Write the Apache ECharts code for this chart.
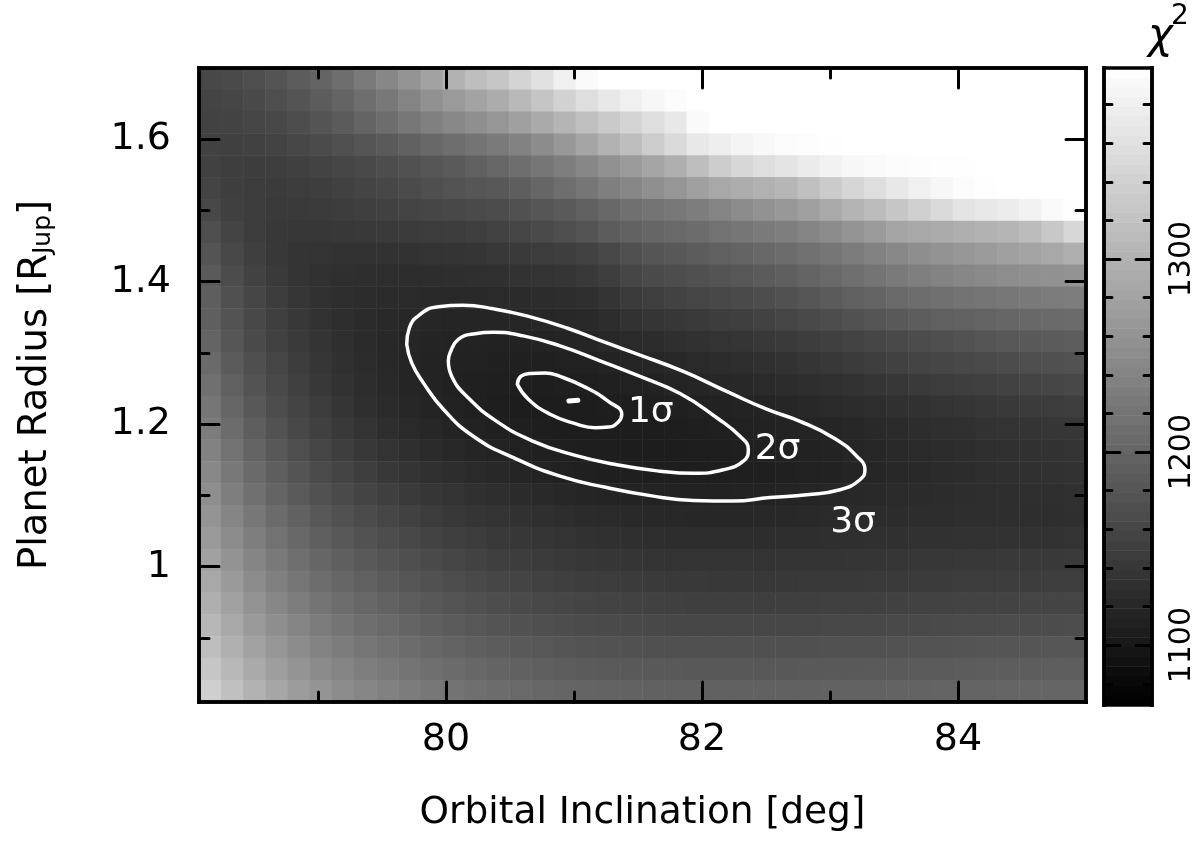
<!DOCTYPE html>
<html><head><meta charset="utf-8">
<style>html,body{margin:0;padding:0;background:#fff}#c{width:1202px;height:846px}</style>
<script src="https://cdn.jsdelivr.net/npm/echarts@6/dist/echarts.min.js"></script>
</head><body><div id="c"></div>
<script>
const inclinationCols=[78.16,78.33,78.51,78.68,78.85,79.03,79.20,79.37,79.55,79.72,79.89,80.07,80.24,80.41,80.59,80.76,80.93,81.11,81.28,81.45,81.63,81.80,81.97,82.15,82.32,82.49,82.67,82.84,83.01,83.19,83.36,83.53,83.71,83.88,84.05,84.23,84.40,84.57,84.75,84.92];
const radiusRows=[1.685,1.654,1.623,1.593,1.562,1.531,1.501,1.470,1.439,1.408,1.378,1.347,1.316,1.286,1.255,1.224,1.194,1.163,1.132,1.102,1.071,1.040,1.010,0.979,0.948,0.917,0.887,0.856,0.825];
const chi2Grid=[
[1162,1165,1170,1178,1188,1198,1211,1227,1244,1261,1279,1299,1315,1325,1343,1360,1380,1393,1399,1399,1399,1399,1399,1399,1399,1399,1399,1399,1399,1399,1399,1399,1399,1399,1399,1399,1399,1399,1399,1399],
[1157,1160,1163,1170,1178,1188,1198,1211,1224,1240,1257,1270,1280,1292,1308,1324,1341,1356,1369,1380,1389,1395,1399,1399,1399,1399,1399,1399,1399,1399,1399,1399,1399,1399,1399,1399,1399,1399,1399,1399],
[1154,1156,1158,1162,1169,1178,1187,1198,1210,1223,1235,1245,1254,1263,1276,1289,1303,1317,1330,1343,1356,1369,1393,1399,1399,1399,1399,1399,1399,1399,1399,1399,1399,1399,1399,1399,1399,1399,1399,1399],
[1153,1152,1153,1156,1161,1166,1173,1179,1185,1195,1204,1211,1219,1227,1237,1250,1266,1283,1299,1315,1333,1351,1369,1377,1385,1390,1395,1396,1398,1399,1399,1399,1399,1399,1399,1399,1399,1399,1399,1399],
[1153,1149,1148,1149,1152,1156,1160,1163,1169,1174,1180,1185,1193,1202,1211,1222,1232,1244,1257,1270,1283,1295,1315,1334,1347,1356,1364,1373,1382,1389,1393,1395,1396,1398,1398,1399,1399,1399,1399,1399],
[1157,1149,1147,1145,1147,1149,1153,1157,1161,1166,1171,1176,1180,1183,1191,1201,1211,1222,1233,1244,1254,1263,1276,1286,1293,1298,1305,1317,1332,1346,1356,1369,1380,1389,1395,1398,1399,1399,1399,1399],
[1162,1152,1147,1144,1144,1145,1148,1151,1153,1157,1160,1162,1165,1167,1174,1180,1185,1193,1204,1214,1219,1224,1231,1240,1250,1258,1266,1276,1289,1302,1312,1325,1338,1351,1364,1369,1374,1382,1393,1398],
[1170,1157,1147,1141,1140,1140,1141,1143,1144,1145,1147,1148,1151,1154,1160,1165,1170,1178,1188,1196,1201,1205,1209,1217,1222,1227,1232,1241,1250,1261,1270,1283,1286,1290,1295,1299,1303,1312,1328,1347],
[1178,1162,1151,1141,1136,1135,1134,1134,1134,1134,1135,1136,1138,1141,1144,1147,1149,1154,1162,1173,1179,1183,1188,1193,1198,1204,1209,1215,1222,1229,1237,1245,1253,1259,1264,1270,1276,1281,1286,1295],
[1185,1167,1154,1144,1136,1132,1130,1129,1129,1127,1127,1129,1130,1131,1134,1135,1138,1143,1149,1160,1165,1169,1173,1178,1182,1187,1192,1198,1205,1213,1219,1227,1233,1239,1244,1248,1251,1254,1257,1259],
[1191,1173,1160,1148,1139,1132,1129,1126,1125,1123,1122,1122,1122,1123,1125,1126,1127,1130,1136,1145,1151,1154,1158,1162,1165,1169,1174,1180,1187,1193,1198,1205,1210,1214,1218,1220,1223,1226,1228,1231],
[1192,1176,1162,1151,1141,1134,1129,1125,1122,1119,1118,1117,1117,1117,1118,1119,1121,1122,1127,1134,1138,1140,1144,1148,1151,1154,1158,1163,1169,1174,1179,1184,1189,1193,1196,1198,1201,1204,1206,1207],
[1198,1180,1165,1153,1144,1136,1130,1125,1121,1118,1116,1114,1114,1113,1113,1114,1116,1117,1121,1123,1126,1130,1132,1135,1138,1141,1144,1148,1152,1156,1160,1163,1167,1171,1175,1179,1182,1184,1187,1189],
[1206,1187,1171,1158,1148,1139,1131,1126,1121,1117,1114,1113,1112,1110,1110,1110,1112,1112,1114,1117,1118,1121,1123,1126,1129,1131,1134,1138,1141,1145,1149,1153,1157,1160,1162,1165,1167,1170,1173,1175],
[1214,1193,1176,1163,1152,1141,1134,1127,1122,1117,1114,1112,1110,1109,1108,1108,1109,1109,1110,1112,1113,1116,1117,1119,1121,1123,1126,1129,1131,1134,1138,1140,1144,1147,1149,1152,1154,1157,1160,1162],
[1222,1201,1183,1169,1157,1147,1138,1130,1125,1119,1116,1113,1110,1108,1107,1107,1107,1107,1108,1108,1109,1110,1112,1113,1114,1116,1118,1121,1123,1126,1129,1131,1132,1135,1138,1140,1143,1145,1147,1149],
[1229,1209,1191,1175,1162,1152,1143,1135,1129,1123,1119,1116,1113,1110,1109,1108,1107,1107,1107,1107,1107,1108,1109,1110,1112,1113,1114,1116,1117,1119,1122,1125,1127,1130,1131,1134,1135,1136,1139,1140],
[1237,1217,1198,1183,1170,1158,1149,1141,1135,1130,1125,1121,1117,1114,1112,1110,1109,1108,1108,1107,1107,1107,1108,1108,1109,1110,1112,1113,1114,1117,1119,1122,1123,1126,1127,1130,1131,1132,1134,1136],
[1245,1224,1206,1191,1178,1166,1157,1149,1141,1136,1131,1127,1123,1121,1117,1114,1112,1110,1109,1109,1108,1108,1108,1108,1109,1109,1110,1112,1113,1116,1118,1121,1122,1125,1126,1129,1130,1131,1132,1134],
[1253,1232,1214,1198,1185,1174,1165,1157,1151,1144,1139,1135,1131,1129,1125,1122,1119,1117,1116,1114,1114,1113,1113,1113,1114,1114,1116,1117,1118,1121,1122,1123,1125,1126,1127,1129,1129,1130,1130,1131],
[1261,1241,1223,1207,1195,1183,1174,1166,1160,1153,1147,1141,1138,1135,1132,1130,1127,1125,1123,1122,1121,1121,1119,1119,1119,1121,1121,1122,1123,1125,1126,1126,1127,1127,1129,1129,1129,1129,1129,1130],
[1268,1250,1232,1217,1204,1192,1183,1175,1169,1162,1156,1151,1147,1143,1140,1138,1135,1132,1131,1130,1129,1127,1127,1127,1127,1127,1129,1129,1130,1130,1131,1131,1132,1132,1134,1134,1134,1134,1134,1135],
[1277,1259,1241,1226,1213,1201,1192,1184,1178,1171,1165,1160,1154,1151,1148,1145,1143,1140,1139,1138,1136,1135,1135,1135,1135,1135,1136,1136,1136,1138,1138,1139,1140,1140,1141,1141,1143,1143,1143,1144],
[1286,1268,1250,1235,1222,1210,1201,1193,1187,1180,1174,1169,1163,1160,1157,1153,1151,1148,1147,1145,1144,1143,1143,1141,1141,1141,1141,1143,1143,1143,1144,1144,1145,1145,1147,1147,1148,1148,1149,1149],
[1295,1277,1259,1244,1231,1219,1210,1202,1196,1189,1183,1178,1173,1169,1165,1162,1160,1157,1156,1154,1153,1152,1151,1151,1151,1151,1151,1151,1152,1152,1152,1153,1154,1154,1156,1156,1156,1157,1157,1157],
[1306,1286,1268,1253,1240,1228,1219,1211,1205,1198,1192,1187,1182,1178,1174,1171,1169,1166,1165,1163,1162,1161,1161,1161,1161,1161,1161,1161,1162,1162,1162,1163,1163,1165,1166,1166,1167,1167,1167,1169],
[1315,1297,1279,1263,1250,1239,1229,1222,1215,1209,1202,1197,1192,1188,1184,1182,1179,1176,1175,1174,1173,1173,1173,1173,1173,1173,1173,1173,1174,1174,1174,1175,1176,1176,1178,1179,1179,1179,1180,1180],
[1325,1307,1289,1273,1261,1249,1240,1232,1226,1219,1213,1207,1202,1198,1195,1192,1189,1187,1185,1184,1184,1184,1183,1183,1183,1183,1183,1184,1184,1184,1185,1185,1187,1187,1188,1189,1189,1189,1191,1191],
[1337,1317,1299,1284,1271,1261,1250,1242,1236,1229,1223,1218,1213,1209,1205,1202,1200,1198,1197,1196,1195,1195,1195,1195,1195,1195,1195,1195,1196,1196,1196,1197,1197,1198,1198,1198,1200,1200,1200,1200]
];
const colorbarBands=[1071,1076,1081,1086,1091,1096,1101,1106,1111,1116,1121,1126,1131,1136,1141,1146,1151,1156,1161,1166,1171,1176,1181,1186,1191,1196,1201,1206,1211,1216,1221,1226,1231,1236,1241,1246,1251,1256,1261,1266,1271,1276,1281,1286,1291,1296,1301,1306,1311,1316,1321,1326,1331,1336,1341,1346,1351,1356,1361,1366,1371,1376,1381,1386,1391,1396];
const contour3s=[[79.693,1.312],[79.713,1.335],[79.797,1.354],[79.94,1.365],[80.135,1.367],[80.370,1.362],[80.630,1.352],[80.943,1.335],[81.255,1.314],[81.516,1.297],[81.854,1.274],[82.193,1.246],[82.505,1.221],[82.766,1.204],[83.026,1.181],[83.209,1.155],[83.273,1.136],[83.234,1.122],[83.078,1.108],[82.818,1.101],[82.531,1.097],[82.245,1.092],[81.932,1.093],[81.620,1.099],[81.255,1.111],[80.891,1.127],[80.526,1.153],[80.213,1.183],[79.979,1.221],[79.823,1.258],[79.732,1.286],[79.693,1.312]];
const contour2s=[[80.018,1.289],[80.031,1.300],[80.096,1.319],[80.227,1.327],[80.370,1.329],[80.604,1.324],[80.891,1.310],[81.203,1.289],[81.516,1.267],[81.828,1.243],[82.115,1.209],[82.297,1.183],[82.362,1.164],[82.323,1.148],[82.166,1.136],[81.932,1.131],[81.672,1.134],[81.334,1.143],[80.995,1.157],[80.682,1.176],[80.396,1.204],[80.162,1.239],[80.045,1.267],[80.018,1.289]];
const contour1s=[[80.557,1.256],[80.584,1.267],[80.656,1.271],[80.773,1.272],[80.891,1.267],[81.099,1.251],[81.268,1.232],[81.373,1.214],[81.346,1.203],[81.268,1.196],[81.164,1.195],[81.021,1.200],[80.813,1.214],[80.643,1.235],[80.557,1.256]];
const bestFit=[[80.96,1.2325],[81.03,1.2335]];
const sigmaLabels=[[81.60,1.216,'1σ'],[82.59,1.164,'2σ'],[83.18,1.062,'3σ']];
const xMajor=[80,82,84], xMinor=[79,81,83];
const yMajor=[1,1.2,1.4,1.6], yMinor=[0.9,1.1,1.3,1.5,1.7];
const barMajor=[1100,1200,1300], barMinor=[1080,1120,1140,1160,1180,1220,1240,1260,1280,1320,1340,1360,1380];
const xRange=[78.07,85], yRange=[0.81,1.7], chiRange=[1069,1399];

const FONT='DejaVu Sans';
function heat(){const d=[];chi2Grid.forEach((r,j)=>r.forEach((v,i)=>d.push([i,j,v])));return d;}
const band=colorbarBands.map((v,j)=>[0,j,v]);
function ax(kind,grid,pos,range,ticks,len,extra){
  return Object.assign({type:'value',gridIndex:grid,position:pos,min:range[0],max:range[1],z:10,
    splitLine:{show:false},
    axisLine:{show:true,onZero:false,lineStyle:{color:'#000',width:3.5,cap:'square'}},
    axisTick:{show:true,inside:true,length:len,customValues:ticks,lineStyle:{color:'#000',width:3,cap:'round'}},
    axisLabel:{show:false}},extra||{});
}
const lab={show:true,fontFamily:FONT,fontSize:38,color:'#000'};
const plain=v=>String(v);
const xAxes=[
 {type:'category',gridIndex:0,data:inclinationCols,show:false},
 ax('x',0,'bottom',xRange,xMajor,20,{axisLabel:Object.assign({},lab,{customValues:xMajor,margin:19,formatter:plain}),
   name:'Orbital Inclination [deg]',nameLocation:'middle',nameGap:92,nameTextStyle:{fontFamily:FONT,fontSize:37.5,color:'#000'}}),
 ax('x',0,'bottom',xRange,xMinor,10),
 ax('x',0,'top',xRange,xMajor,20),
 ax('x',0,'top',xRange,xMinor,10),
 {type:'category',gridIndex:1,data:['χ²'],show:false},
 {type:'value',gridIndex:1,position:'bottom',min:0,max:1,z:10,splitLine:{show:false},axisTick:{show:false},axisLabel:{show:false},axisLine:{show:true,onZero:false,lineStyle:{color:'#000',width:3.5,cap:'square'}}},
 {type:'value',gridIndex:1,position:'top',min:0,max:1,z:10,splitLine:{show:false},axisTick:{show:false},axisLabel:{show:false},axisLine:{show:true,onZero:false,lineStyle:{color:'#000',width:3.5,cap:'square'}}}
];
const yAxes=[
 {type:'category',gridIndex:0,data:radiusRows,inverse:true,show:false},
 ax('y',0,'left',yRange,yMajor,20,{axisLabel:Object.assign({},lab,{customValues:yMajor,margin:28,padding:[4,0,0,0],formatter:plain}),
   name:'{t|Planet Radius [R}{s|Jup}{t|]}',nameLocation:'middle',nameRotate:90,nameGap:143,
   nameTextStyle:{rich:{t:{fontFamily:FONT,fontSize:38.5,color:'#000'},s:{fontFamily:FONT,fontSize:25,color:'#000',verticalAlign:'bottom',padding:[16,0,0,0]}}}}),
 ax('y',0,'left',yRange,yMinor,10),
 ax('y',0,'right',yRange,yMajor,20),
 ax('y',0,'right',yRange,yMinor,10),
 {type:'category',gridIndex:1,data:colorbarBands,show:false},
 ax('y',1,'left',chiRange,barMajor,16),
 ax('y',1,'left',chiRange,barMinor,8),
 ax('y',1,'right',chiRange,barMajor,16,{axisLabel:{show:true,customValues:barMajor,rotate:90,margin:15,fontFamily:FONT,fontSize:30,color:'#000',formatter:plain}}),
 ax('y',1,'right',chiRange,barMinor,8)
];
const contour=(d,w)=>({type:'line',xAxisIndex:1,yAxisIndex:1,data:d,showSymbol:false,symbol:'none',smooth:0.5,z:5,
  lineStyle:{color:'#fff',width:w||3.5,cap:'round'},silent:true});
const option={
 animation:false,backgroundColor:'#fff',
 graphic:[
  {type:'text',left:1148,top:16,z:20,style:{text:'χ',font:'italic 42px "DejaVu Sans"',fill:'#000'}},
  {type:'text',left:1171,top:3,z:20,style:{text:'2',font:'28px "DejaVu Sans"',fill:'#000'}}
 ],
 grid:[{left:199,top:68,width:887,height:634},{left:1104,top:68,width:48,height:637}],
 xAxis:xAxes,yAxis:yAxes,
 visualMap:{show:false,type:'continuous',min:chiRange[0],max:chiRange[1],dimension:2,seriesIndex:[0,1],inRange:{color:['#000000','#ffffff']}},
 series:[
  {type:'heatmap',xAxisIndex:0,yAxisIndex:0,data:heat(),progressive:0,silent:true,z:2},
  {type:'heatmap',xAxisIndex:5,yAxisIndex:5,data:band,progressive:0,silent:true,z:2},
  contour(contour3s),contour(contour2s),contour(contour1s),contour(bestFit,5),
  {type:'scatter',xAxisIndex:1,yAxisIndex:1,symbolSize:1,itemStyle:{color:'rgba(0,0,0,0)',opacity:1},z:6,silent:true,
   data:sigmaLabels,label:{show:true,position:'inside',formatter:p=>p.data[2],fontFamily:FONT,fontSize:36,color:'#fff',align:'center',verticalAlign:'middle'}}
 ]
};
echarts.init(document.getElementById('c'),null,{renderer:'canvas'}).setOption(option);
</script></body></html>
